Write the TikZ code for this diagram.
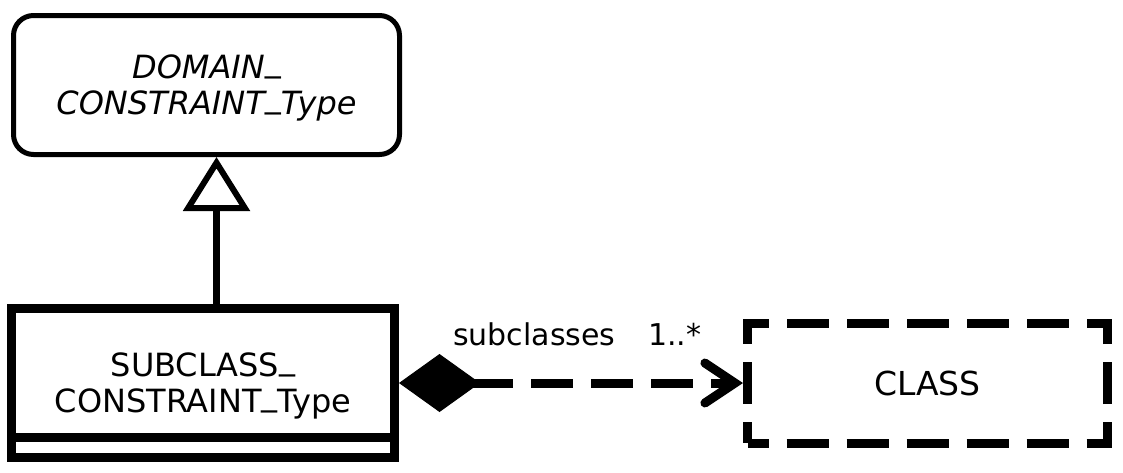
\documentclass[tikz,border=0pt]{standalone}
\usepackage{fontspec}
\setmainfont{DejaVu Sans}
\usetikzlibrary{arrows.meta,positioning,calc}

\newcommand{\usc}{\raisebox{7pt}{\_}}

\begin{document}
\begin{tikzpicture}[
    x=1pt, y=1pt,
    every node/.style={font=\fontsize{32}{36}\selectfont, align=center, text depth=0pt},
    abstract/.style={draw, line width=5pt, rounded corners=20pt, minimum width=386pt, minimum height=139pt, inner sep=0pt, font=\fontsize{32}{36}\selectfont\itshape},
    restricted/.style={draw, line width=9pt, minimum width=383pt, minimum height=149pt, inner sep=0pt},
    external/.style={draw, line width=9pt, dash pattern=on 42pt off 18pt, dash phase=21pt, minimum width=360pt, minimum height=120pt, inner sep=0pt, font=\fontsize{33}{36}\selectfont},
    rolename/.style={inner sep=0pt, font=\fontsize{30}{36}\selectfont},
    inherit/.style={line width=7pt, -{Triangle[open, length=54pt, width=66pt, line width=6pt]}},
    compose/.style={line width=9pt, dash pattern=on 42pt off 18pt, {Diamond[length=81pt, width=58pt, line width=1pt]}-{Straight Barb[length=30pt, width=40pt, line cap=round]}}
]
    \useasboundingbox (0,0) rectangle (1123,-472);

    \node[abstract] (domain) at (206.5,-85) {DOMAIN\usc\\CONSTRAINT\usc Type};
    \node[restricted] (sub) at (203,-383) {SUBCLASS\usc\\CONSTRAINT\usc Type};
    \node[external, right=344pt of sub] (cls) {CLASS};

    % empty compartment
    \draw[line width=9pt] ([yshift=24.5pt]sub.south west) -- ([yshift=24.5pt]sub.south east);

    \coordinate (up) at ([xshift=13.5pt]sub.north);
    \draw[inherit] (up) -- (up |- domain.south);

    \draw[compose] (sub.east) -- (cls.west);
    \node[rolename, anchor=base west] (role) at (453,-345) {subclasses};
    \node[rolename, anchor=base west] (mult) at (648,-345) {1..*};
\end{tikzpicture}
\end{document}
